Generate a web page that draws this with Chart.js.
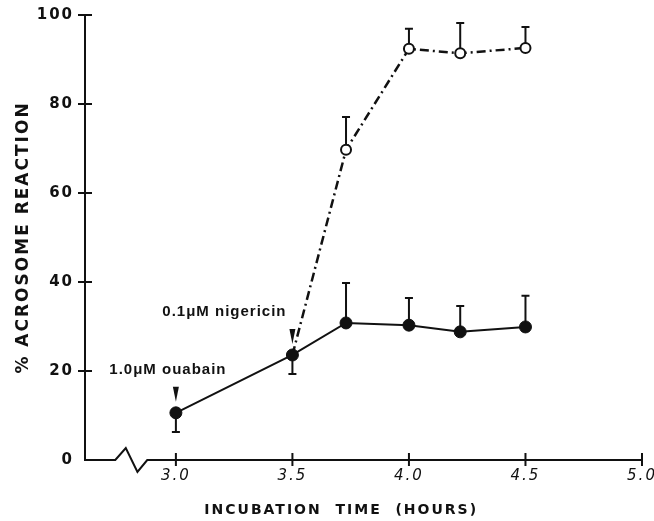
<!DOCTYPE html>
<html>
<head>
<meta charset="utf-8">
<script src="https://cdn.jsdelivr.net/npm/chart.js@4.4.1/dist/chart.umd.min.js"></script>
<style>
  html, body { margin: 0; padding: 0; background: #fff; }
  canvas { display: block; }
</style>
</head>
<body>
<canvas id="chart" width="654" height="521"></canvas>
<script>
// incubation time (hours)
const timeSolid = [3.0, 3.5, 3.73, 4.0, 4.22, 4.5];
const ouabain = [10.6, 23.6, 30.8, 30.3, 28.8, 29.9];
const ouabainErrDown = [4.3, 4.3, null, null, null, null];
const ouabainErrUp = [null, null, 9.0, 6.1, 5.8, 7.0];

// nigericin series starts from the 3.5 h ouabain point
const timeOpen = [3.5, 3.73, 4.0, 4.22, 4.5];
const nigericin = [23.6, 69.7, 92.4, 91.4, 92.6];
const nigericinErrUp = [null, 7.4, 4.5, 6.8, 4.7];

const xTicks = [3.0, 3.5, 4.0, 4.5, 5.0];
const yTicks = [0, 20, 40, 60, 80, 100];

const xTitle = 'INCUBATION  TIME  (HOURS)';
const yTitle = '% ACROSOME REACTION';

const notes = [
  { label: '1.0\u03bcM ouabain', at: 0, dx: -8 },
  { label: '0.1\u03bcM nigericin', at: 1, dx: -68 }
];

const ink = '#111';

const decor = {
  id: 'decor',
  beforeUpdate(chart) { chart.ctx.letterSpacing = '2px'; },
  beforeDraw(chart) {
    const ctx = chart.ctx;
    ctx.letterSpacing = '2px';
    ctx.save();
    ctx.fillStyle = '#fff';
    ctx.fillRect(0, 0, chart.width, chart.height);
    ctx.restore();
  },
  beforeDatasetsDraw(chart) {
    const ctx = chart.ctx, xs = chart.scales.x, ys = chart.scales.y;
    ctx.save();
    ctx.strokeStyle = ink;
    ctx.lineWidth = 2;
    const bar = (t, v, e, dir) => {
      if (e == null) return;
      const px = xs.getPixelForValue(t);
      const p0 = ys.getPixelForValue(v);
      const p1 = ys.getPixelForValue(v + dir * e);
      ctx.beginPath();
      ctx.moveTo(px, p0); ctx.lineTo(px, p1);
      ctx.moveTo(px - 4, p1); ctx.lineTo(px + 4, p1);
      ctx.stroke();
    };
    timeSolid.forEach((t, i) => {
      bar(t, ouabain[i], ouabainErrDown[i], -1);
      bar(t, ouabain[i], ouabainErrUp[i], 1);
    });
    timeOpen.forEach((t, i) => bar(t, nigericin[i], nigericinErrUp[i], 1));
    ctx.restore();
  },
  afterDraw(chart) {
    const ctx = chart.ctx, xs = chart.scales.x, ys = chart.scales.y;
    const a = chart.chartArea;
    ctx.save();
    ctx.strokeStyle = ink;
    ctx.fillStyle = ink;
    ctx.lineWidth = 2;
    ctx.lineJoin = 'miter';
    // y axis
    ctx.beginPath();
    ctx.moveTo(a.left, ys.getPixelForValue(100));
    ctx.lineTo(a.left, a.bottom);
    // x axis with break
    const zig = [[2.74, 0], [2.785, -12], [2.835, 12], [2.877, 0]];
    zig.forEach(([v, dy]) => ctx.lineTo(xs.getPixelForValue(v), a.bottom + dy));
    ctx.lineTo(xs.getPixelForValue(5.0), a.bottom);
    ctx.stroke();
    // crossing tick marks
    ctx.beginPath();
    yTicks.slice(1).forEach(v => {
      const py = ys.getPixelForValue(v);
      ctx.moveTo(a.left - 7, py); ctx.lineTo(a.left + 7, py);
    });
    xTicks.forEach(v => {
      const px = xs.getPixelForValue(v);
      ctx.moveTo(px, a.bottom - 7); ctx.lineTo(px, a.bottom + 6);
    });
    ctx.stroke();
    // x axis title (sits a little left of the plot centre)
    ctx.font = 'bold 14px "DejaVu Sans"';
    ctx.letterSpacing = '2px';
    ctx.textAlign = 'center';
    ctx.textBaseline = 'middle';
    ctx.fillText(xTitle, a.left + (a.right - a.left) * 0.46, 510);
    // annotations
    ctx.font = 'bold 15px "Liberation Sans"';
    ctx.letterSpacing = '1px';
    notes.forEach(n => {
      const px = xs.getPixelForValue(timeSolid[n.at]);
      const py = ys.getPixelForValue(ouabain[n.at]);
      ctx.fillText(n.label, px + n.dx, py - 43);
      ctx.beginPath();
      ctx.moveTo(px - 3, py - 26);
      ctx.lineTo(px + 3, py - 26);
      ctx.lineTo(px, py - 11);
      ctx.closePath();
      ctx.fill();
    });
    ctx.restore();
  }
};

new Chart(document.getElementById('chart'), {
  type: 'line',
  data: {
    datasets: [
      {
        data: timeSolid.map((t, i) => ({ x: t, y: ouabain[i] })),
        borderColor: ink,
        borderWidth: 2,
        pointRadius: 6,
        pointBackgroundColor: ink,
        pointBorderColor: ink,
        pointBorderWidth: 1,
        clip: false
      },
      {
        data: timeOpen.map((t, i) => ({ x: t, y: nigericin[i] })),
        borderColor: ink,
        borderWidth: 2.5,
        borderDash: [9, 4, 2, 4],
        pointRadius: [0, 5, 5, 5, 5],
        pointBackgroundColor: '#fff',
        pointBorderColor: ink,
        pointBorderWidth: 2,
        clip: false
      }
    ]
  },
  options: {
    responsive: false,
    animation: false,
    layout: { padding: { top: 15, right: 12, left: 0, bottom: 0 } },
    plugins: { legend: { display: false }, tooltip: { enabled: false } },
    scales: {
      x: {
        type: 'linear',
        min: 2.61,
        max: 5.0,
        afterBuildTicks: s => { s.ticks = xTicks.map(v => ({ value: v })); },
        afterFit: s => { s.height = 61; s.paddingLeft = 0; s.paddingRight = 0; },
        grid: { display: false, drawTicks: false },
        border: { display: false },
        ticks: {
          autoSkip: false,
          maxRotation: 0,
          padding: 7,
          color: ink,
          font: { family: 'DejaVu Sans', size: 15, style: 'italic' },
          callback: v => v.toFixed(1)
        },
        title: { display: false }
      },
      y: {
        min: 0,
        max: 100,
        afterBuildTicks: s => { s.ticks = yTicks.map(v => ({ value: v })); },
        afterFit: s => { s.width = 85; s.paddingTop = 0; s.paddingBottom = 0; },
        grid: { display: false, drawTicks: false },
        border: { display: false },
        ticks: {
          padding: 11,
          color: ink,
          font: { family: 'DejaVu Sans', size: 15, weight: 'bold' }
        },
        title: {
          display: true,
          text: yTitle,
          color: ink,
          font: { family: 'DejaVu Sans', size: 17, weight: 'bold' },
          padding: { top: 13, bottom: 0 }
        }
      }
    }
  },
  plugins: [decor]
});
</script>
</body>
</html>
